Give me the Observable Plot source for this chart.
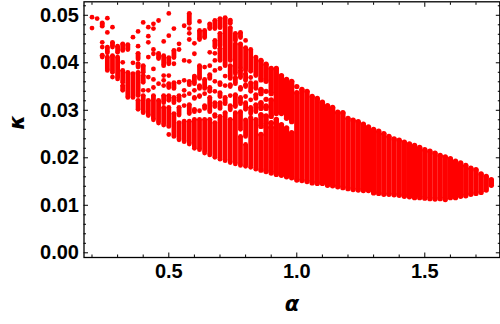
<!DOCTYPE html>
<html><head><meta charset="utf-8">
<style>html,body{margin:0;padding:0;background:#fff}svg{display:block}</style>
<script src="https://cdn.jsdelivr.net/npm/d3@7"></script>
<script src="https://cdn.jsdelivr.net/npm/@observablehq/plot@0.6"></script>
</head><body><div id="chart"></div>
<script>
const alphaLeft = [0.20,0.22,0.24,0.26,0.28,0.30,0.32,0.34,0.36,0.38,0.40,0.42,0.44,0.46,0.48,0.50,0.52,0.54,0.56,0.58,0.60,0.62,0.64,0.66];
// kappa runs read per column: [a,b] is a continuous stack, [a] a lone point
const kappaLeft = [
 [[.0496],[.0473]],
 [[.0493]],
 [[.0484,.0477],[.0443],[.0433],[.0416,.0412]],
 [[.0494],[.0464],[.0433,.0421],[.0412,.0384]],
 [[.0475],[.0443,.0433],[.0415,.038],[.037]],
 [[.0435,.0422],[.0412,.0366]],
 [[.044,.0426],[.0401],[.0384,.0359],[.0352,.0342]],
 [[.0438,.0428],[.038,.0327]],
 [[.0454],[.04],[.0377,.0327]],
 [[.0466],[.0435],[.042,.0408],[.0398,.0391],[.038,.0331],[.0321,.0302]],
 [[.0485],[.0394,.038],[.0373,.0359],[.0342],[.0331,.0295]],
 [[.0475],[.0456],[.0443],[.0412],[.037],[.0342],[.0321,.0289]],
 [[.0482],[.0472],[.0428],[.0419],[.0387],[.0365],[.0348],[.0331,.028]],
 [[.0489],[.042,.0409],[.0356],[.0321,.0273]],
 [[.0445],[.0415,.0394],[.0373],[.0363],[.0352],[.0331,.0316],[.0306,.0269]],
 [[.0504],[.0457],[.0411,.0398],[.0373],[.0356,.0348],[.0331,.0321],[.0306,.0266],[.0249]],
 [[.0472],[.0426,.0411],[.0398],[.0358,.0346],[.0327,.0316],[.0293,.0245]],
 [[.044],[.0428],[.0359],[.0331,.0321],[.0306,.029],[.0274,.0238]],
 [[.0478],[.0405],[.0363],[.0342],[.0331],[.031],[.0277,.0234]],
 [[.0504,.0483],[.0472],[.0462],[.0449],[.0403],[.0361,.0354],[.0335],[.0312,.0293],[.0277,.0229]],
 [[.0441],[.0419],[.0372,.0356],[.0342],[.0327,.0325],[.0302,.0297],[.0281,.022]],
 [[.0487],[.0468,.0449],[.0394,.0367],[.0352,.0346],[.0331,.0329],[.0299],[.0281,.0217]],
 [[.0468,.0453],[.0391],[.0365,.0346],[.0335],[.031,.0304],[.0281,.021]],
 [[.0482,.0472],[.0422],[.0394],[.0375,.0367],[.0348,.034],[.0327,.0297],[.0281,.0206]]
];
const alphaMiddle = [0.68,0.70,0.72,0.74,0.76,0.78,0.80,0.82,0.84,0.86,0.88,0.90,0.92,0.94,0.96,0.98,1.00];
const kappaMiddle = [
 [[.0489,.0472],[.0447,.0433],[.042],[.0405],[.0384],[.0361],[.034],[.0316,.0308],[.0291,.0287],[.0274,.0201]],
 [[.0493,.0474],[.0462,.0436],[.043,.0405],[.0388],[.0358,.0354],[.0337,.0329],[.0316,.0304],[.0287,.0197]],
 [[.0495,.0394],[.0372],[.0352],[.0327,.0314],[.0295,.0194]],
 [[.049,.0483],[.0474,.0405],[.0394,.0367],[.0354,.035],[.0331],[.031,.0301],[.0281,.019]],
 [[.0462,.0447],[.044,.0377],[.0369,.0356],[.0333,.0308],[.0295,.0187]],
 [[.0464,.0453],[.044,.0388],[.0384,.0369],[.0348,.0344],[.0327,.0314],[.0297,.026],[.0245,.0184]],
 [[.0447],[.0432,.0384],[.0377,.0363],[.0354,.035],[.0329],[.0316,.0302],[.028,.0245],[.0228,.0182]],
 [[.0428,.0382],[.0369],[.0358,.034],[.0322],[.0306,.0293],[.0285,.018]],
 [[.0412,.0373],[.0358,.0346],[.0333,.0325],[.0312,.0297],[.0281,.0176]],
 [[.0405,.0364],[.0344,.0335],[.0316,.0304],[.0291,.0266],[.0249,.0174]],
 [[.0397,.0361],[.034],[.0323],[.0309,.0304],[.0288,.027],[.0265,.0171]],
 [[.0388,.0335],[.0322,.0287],[.0274,.0272],[.0265,.0168]],
 [[.0388,.0293],[.0281,.0165]],
 [[.0373,.0293],[.027,.0163]],
 [[.0365,.0283],[.0263,.016]],
 [[.0361,.0276],[.0253,.0158]],
 [[.035],[.0337,.0153]]
];
const alphaRight = [1.02,1.04,1.06,1.08,1.10,1.12,1.14,1.16,1.18,1.20,1.22,1.24,1.26,1.28,1.30,1.32,1.34,1.36,1.38,1.40,1.42,1.44,1.46,1.48,1.50,1.52,1.54,1.56,1.58,1.60,1.62,1.64,1.66,1.68,1.70,1.72,1.74,1.76];
const kappaRightTop = [.0344,.034,.0329,.0325,.0317,.031,.0306,.0296,.0295,.0283,.0279,.0276,.0271,.0265,.026,.0256,.0251,.0245,.024,.0237,.0233,.0229,.0226,.0222,.0217,.0214,.021,.0205,.0202,.0198,.0193,.0189,.0184,.0178,.0175,.0166,.0161,.0154];
const kappaRightBottom = [.0152,.015,.0147,.0146,.0146,.0142,.0141,.0139,.0137,.0135,.0133,.0132,.0131,.0131,.0126,.0125,.0123,.0123,.0122,.0121,.0119,.0118,.0116,.0116,.0115,.0114,.0113,.0114,.0112,.0116,.0116,.0119,.012,.0123,.0125,.0127,.0132,.0142];
const xMajor = [0.5,1.0,1.5];
const xMinor = [0.2,0.3,0.4,0.6,0.7,0.8,0.9,1.1,1.2,1.3,1.4,1.6,1.7];
const yMajor = [0,0.01,0.02,0.03,0.04,0.05];
const yMinor = [0.002,0.004,0.006,0.008,0.012,0.014,0.016,0.018,0.022,0.024,0.026,0.028,0.032,0.034,0.036,0.038,0.042,0.044,0.046,0.048,0.052];

const runs = [];
alphaLeft.forEach((a,i)=>kappaLeft[i].forEach(r=>runs.push({a,k1:r[0],k2:r[r.length-1]})));
alphaMiddle.forEach((a,i)=>kappaMiddle[i].forEach(r=>runs.push({a,k1:r[0],k2:r[r.length-1]})));
alphaRight.forEach((a,i)=>runs.push({a,k1:kappaRightTop[i],k2:kappaRightBottom[i]}));
const ends = runs.flatMap(r=>r.k1===r.k2?[{a:r.a,k:r.k1}]:[{a:r.a,k:r.k1},{a:r.a,k:r.k2}]);

const width = a => a < 0.85 ? 4.8 : 5.3;
const red="#ff0000", font="'Liberation Sans',Arial,sans-serif", glyph="'DejaVu Sans',sans-serif";
const noText=()=>"";
const chart = Plot.plot({
  width:500,height:324,marginLeft:83.5,marginRight:0.7,marginTop:1.3,marginBottom:67,
  style:{fontFamily:font,background:"#fff",color:"#000"},
  x:{domain:[0.16875,1.793]},
  y:{domain:[-0.00099,0.05284]},
  r:{type:"identity"},
  marks:[
    Plot.ruleX(runs.filter(r=>r.k1!==r.k2),{x:"a",y1:"k1",y2:"k2",stroke:red,strokeWidth:d=>width(d.a)}),
    Plot.dot(ends,{x:"a",y:"k",r:d=>width(d.a)/2,fill:red,stroke:"none"}),
    Plot.frame({stroke:"#000",strokeWidth:1.3}),
    Plot.axisX({anchor:"bottom",ticks:xMajor,tickSize:-4.5,tickPadding:11,tickFormat:d=>d.toFixed(1),fontSize:20,fontWeight:"bold",label:null}),
    Plot.axisX({anchor:"bottom",ticks:xMinor,tickSize:-2.5,tickFormat:noText,label:null}),
    Plot.axisX({anchor:"top",ticks:xMajor,tickSize:-4.5,tickFormat:noText,label:null}),
    Plot.axisX({anchor:"top",ticks:xMinor,tickSize:-2.5,tickFormat:noText,label:null}),
    Plot.axisY({anchor:"left",ticks:yMajor,tickSize:-4.5,tickPadding:9.5,tickFormat:d=>d.toFixed(2),fontSize:20,fontWeight:"bold",label:null}),
    Plot.axisY({anchor:"left",ticks:yMinor,tickSize:-2.5,tickFormat:noText,label:null}),
    Plot.axisY({anchor:"right",ticks:yMajor,tickSize:-4.5,tickFormat:noText,label:null}),
    Plot.axisY({anchor:"right",ticks:yMinor,tickSize:-2.5,tickFormat:noText,label:null}),
    Plot.text(["α"],{frameAnchor:"bottom",dy:53,fontSize:21,fontFamily:glyph,fontWeight:"bold",fontStyle:"italic",fill:"#000"}),
    Plot.text(["κ"],{frameAnchor:"left",dx:-66.5,rotate:-90,fontSize:21,fontFamily:glyph,fontWeight:"bold",fontStyle:"italic",fill:"#000"})
  ]
});
document.getElementById("chart").appendChild(chart);
</script></body></html>
